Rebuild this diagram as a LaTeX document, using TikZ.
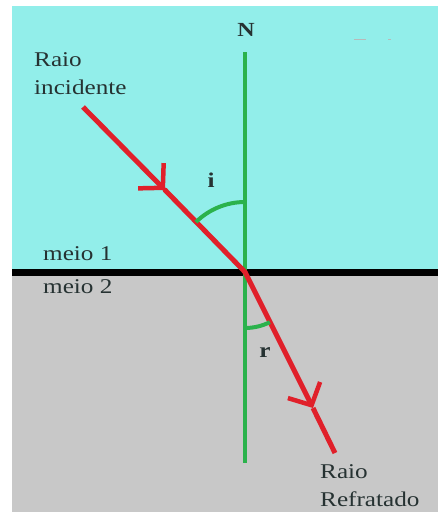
\documentclass[tikz,border=0pt]{standalone}
\usepackage{fontspec}
\setmainfont{Liberation Serif}[FakeStretch=1.2]
\usetikzlibrary{arrows.meta}

\definecolor{water}{HTML}{92EEEA}
\definecolor{glass}{HTML}{C8C8C8}
\definecolor{normalg}{HTML}{2BB24C}
\definecolor{rayred}{HTML}{E0202A}
\definecolor{inkgray}{HTML}{263232}

\begin{document}
\begin{tikzpicture}[
    x=1pt, y=-1pt,
    ray/.style={draw=rayred, line width=5pt},
    barb/.style={-{Straight Barb[length=17pt, width=36pt, line width=4.5pt]}},
    normline/.style={draw=normalg, line width=4pt},
    anglearc/.style={draw=normalg, line width=4pt},
    txt/.style={font=\fontsize{21}{28}\selectfont, text=inkgray, inner sep=0pt},
    symb/.style={font=\fontsize{21}{28}\selectfont\bfseries, text=inkgray, inner sep=0pt}
]
\useasboundingbox (0,0) rectangle (438,512);

% media
\fill[white] (0,0) rectangle (438,512);
\fill[water] (12,6) rectangle (438,272);
\fill[glass] (12,272) rectangle (438,512);
\draw[black, line width=7pt] (12,272) -- (438,272);

% points
\coordinate (O) at (245,272);
\coordinate (Ntop) at (245,52);
\coordinate (Nbot) at (245,463);
\coordinate (A) at (83,107);
\coordinate (Amid) at (165,190);
\coordinate (B) at (335,453);
\coordinate (Bmid) at (313,408);

% normal
\draw[normline] (Ntop) -- (Nbot);
\node[symb, font=\fontsize{20}{24}\selectfont\bfseries] (nlabel) at (246,30) {N};

% incident ray
\draw[ray, barb] (A) -- (Amid);
\draw[ray, line cap=round] (Amid) -- (O);

% refracted ray
\draw[ray, barb] (O) -- (Bmid);
\draw[ray] (Bmid) -- (B);

% angles
\draw[anglearc] (O) ++(270:70) arc[start angle=270, end angle=225.5, radius=70];
\draw[anglearc] (O) ++(90:56) arc[start angle=90, end angle=63.6, radius=56];
\node[symb] (ilabel) at (211,180) {i};
\node[symb] (rlabel) at (265,353) {r};

% labels
\node[txt, anchor=west, align=left] (incid) at (34,74) {Raio\\incidente};
\node[txt, anchor=west] (meio1) at (43,254) {meio 1};
\node[txt, anchor=west] (meio2) at (43,287) {meio 2};
\node[txt, anchor=west, align=left] (refr) at (320,486) {Raio\\Refratado};

% faint marks
\draw[gray!55, line width=1pt] (354,39) -- (366,39);
\draw[gray!55, line width=1pt] (388,39) -- (391,39);
\end{tikzpicture}
\end{document}
